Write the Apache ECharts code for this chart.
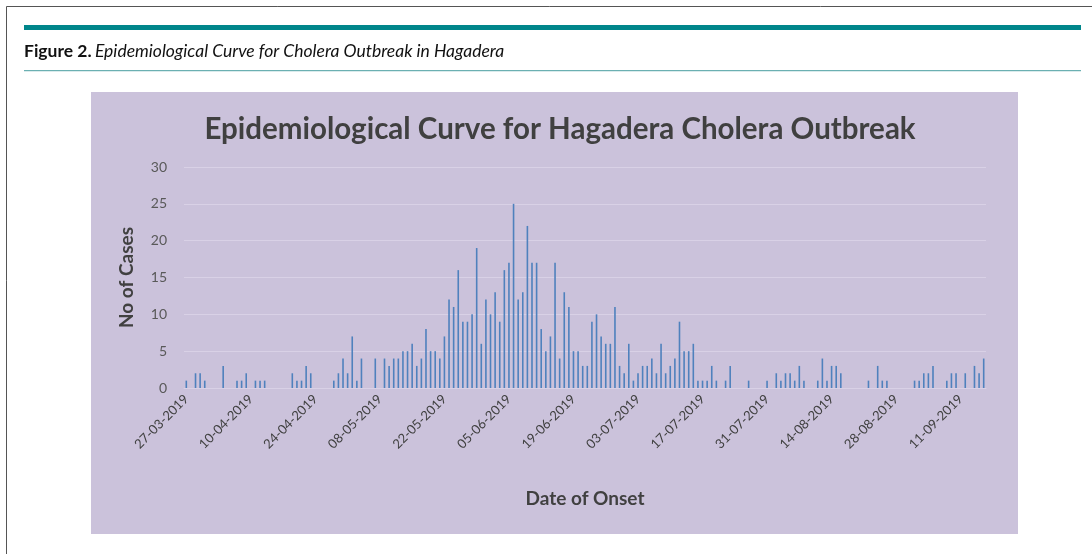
<!DOCTYPE html>
<html>
<head>
<meta charset="utf-8">
<script src="https://cdn.jsdelivr.net/npm/echarts@6/dist/echarts.min.js"></script>
<style>
html,body{margin:0;padding:0;background:#fff;}
#chart{width:1092px;height:554px;}
</style>
</head>
<body>
<div id="chart"></div>
<script>
// Axis range (daily categories)
const startDate = '27-03-2019';
const endDate = '16-09-2019';
// Tick labels shown on the date axis
const tickLabels = ['27-03-2019','10-04-2019','24-04-2019','08-05-2019','22-05-2019','05-06-2019','19-06-2019','03-07-2019','17-07-2019','31-07-2019','14-08-2019','28-08-2019','11-09-2019'];
// Dates with cases and counts
const caseDates = ['27-03-2019','29-03-2019','30-03-2019','31-03-2019','04-04-2019','07-04-2019','08-04-2019','09-04-2019','11-04-2019','12-04-2019','13-04-2019','19-04-2019','20-04-2019','21-04-2019','22-04-2019','23-04-2019','28-04-2019','29-04-2019','30-04-2019','01-05-2019','02-05-2019','03-05-2019','04-05-2019','07-05-2019','09-05-2019','10-05-2019','11-05-2019','12-05-2019','13-05-2019','14-05-2019','15-05-2019','16-05-2019','17-05-2019','18-05-2019','19-05-2019','20-05-2019','21-05-2019','22-05-2019','23-05-2019','24-05-2019','25-05-2019','26-05-2019','27-05-2019','28-05-2019','29-05-2019','30-05-2019','31-05-2019','01-06-2019','02-06-2019','03-06-2019','04-06-2019','05-06-2019','06-06-2019','07-06-2019','08-06-2019','09-06-2019','10-06-2019','11-06-2019','12-06-2019','13-06-2019','14-06-2019','15-06-2019','16-06-2019','17-06-2019','18-06-2019','19-06-2019','20-06-2019','21-06-2019','22-06-2019','23-06-2019','24-06-2019','25-06-2019','26-06-2019','27-06-2019','28-06-2019','29-06-2019','30-06-2019','01-07-2019','02-07-2019','03-07-2019','04-07-2019','05-07-2019','06-07-2019','07-07-2019','08-07-2019','09-07-2019','10-07-2019','11-07-2019','12-07-2019','13-07-2019','14-07-2019','15-07-2019','16-07-2019','17-07-2019','18-07-2019','19-07-2019','20-07-2019','22-07-2019','23-07-2019','27-07-2019','31-07-2019','02-08-2019','03-08-2019','04-08-2019','05-08-2019','06-08-2019','07-08-2019','08-08-2019','11-08-2019','12-08-2019','13-08-2019','14-08-2019','15-08-2019','16-08-2019','22-08-2019','24-08-2019','25-08-2019','26-08-2019','01-09-2019','02-09-2019','03-09-2019','04-09-2019','05-09-2019','08-09-2019','09-09-2019','10-09-2019','12-09-2019','14-09-2019','15-09-2019','16-09-2019'];
const caseCounts = [1,2,2,1,3,1,1,2,1,1,1,2,1,1,3,2,1,2,4,2,7,1,4,4,4,3,4,4,5,5,6,3,4,8,5,5,4,7,12,11,16,9,9,10,19,6,12,10,13,9,16,17,25,12,13,22,17,17,8,5,7,17,4,13,11,5,5,3,3,9,10,7,6,6,11,3,2,6,1,2,3,3,4,2,6,2,3,4,9,5,5,6,1,1,1,3,1,1,3,1,1,2,1,2,2,1,3,1,1,4,1,3,3,2,1,3,1,1,1,1,2,2,3,1,2,2,2,3,2,4];
const yTicks = [0,5,10,15,20,25,30];

function parseD(s){const p=s.split('-');return Date.UTC(+p[2],+p[1]-1,+p[0]);}
function fmtD(t){const d=new Date(t);const dd=String(d.getUTCDate()).padStart(2,'0');const mm=String(d.getUTCMonth()+1).padStart(2,'0');return dd+'-'+mm+'-'+d.getUTCFullYear();}
const categories=[];
for(let t=parseD(startDate);t<=parseD(endDate);t+=86400000){categories.push(fmtD(t));}
const countMap={};
caseDates.forEach((d,i)=>{countMap[d]=caseCounts[i];});
const seriesData=categories.map(c=>countMap[c]!==undefined?countMap[c]:null);

const chart=echarts.init(document.getElementById('chart'),null,{renderer:'canvas'});
const textDark='#404040';
chart.setOption({
  animation:false,
  backgroundColor:'#ffffff',
  graphic:[
    {type:'line',shape:{x1:6.5,y1:6.5,x2:1092,y2:6.5},style:{stroke:'#555',lineWidth:1},silent:true},
    {type:'line',shape:{x1:6.5,y1:6.5,x2:6.5,y2:554},style:{stroke:'#555',lineWidth:1},silent:true},
    {type:'rect',shape:{x:24,y:25,width:1057,height:5},style:{fill:'#00868B'},silent:true},
    {type:'rect',shape:{x:24,y:70,width:1057,height:1.2},style:{fill:'#6BB0B2'},silent:true},
    {type:'text',left:24,top:42,style:{
      text:'{b|Figure 2.} {i|Epidemiological Curve for Cholera Outbreak in Hagadera}',
      rich:{
        b:{fontFamily:'Lato',fontWeight:'bold',fontSize:17.5,fill:'#111'},
        i:{fontFamily:'Lato',fontStyle:'italic',fontSize:17.5,fill:'#111'}
      }
    },silent:true},
    {type:'rect',z:-10,shape:{x:91,y:92,width:927,height:442},style:{fill:'#CBC2DB'},silent:true}
  ],
  title:{
    text:'Epidemiological Curve for Hagadera Cholera Outbreak',
    left:555,top:109,textAlign:'center',
    textStyle:{fontFamily:'Lato',fontWeight:'bold',fontSize:29.5,color:textDark}
  },
  grid:{left:184,right:106,top:167,bottom:166,containLabel:false},
  xAxis:{
    type:'category',
    data:categories,
    boundaryGap:true,
    name:'Date of Onset',
    nameLocation:'middle',
    nameGap:101,
    nameTextStyle:{fontFamily:'Lato',fontWeight:'bold',fontSize:19,color:textDark},
    axisLine:{show:true,lineStyle:{color:'#D9D1E6',width:1}},
    axisTick:{show:false},
    axisLabel:{
      interval:(i,v)=>tickLabels.indexOf(v)>=0,
      rotate:45,
      margin:9,
      fontFamily:'Lato',fontSize:13,color:'#404040'
    },
    splitLine:{show:false}
  },
  yAxis:{
    type:'value',
    min:0,max:30,interval:5,
    name:'No of Cases',
    nameLocation:'middle',
    nameRotate:90,
    nameGap:48,
    nameTextStyle:{fontFamily:'Lato',fontWeight:'bold',fontSize:19,color:textDark},
    axisLine:{show:false},
    axisTick:{show:false},
    axisLabel:{margin:17,fontFamily:'Lato',fontSize:14,color:'#595959',
      formatter:v=>yTicks.indexOf(v)>=0?String(v):''},
    splitLine:{show:true,lineStyle:{color:'#D9D1E6',width:1}}
  },
  series:[{
    type:'bar',
    data:seriesData,
    barWidth:1.6,
    itemStyle:{color:'#4F81BD'},
    silent:true
  }]
});
</script>
</body>
</html>
